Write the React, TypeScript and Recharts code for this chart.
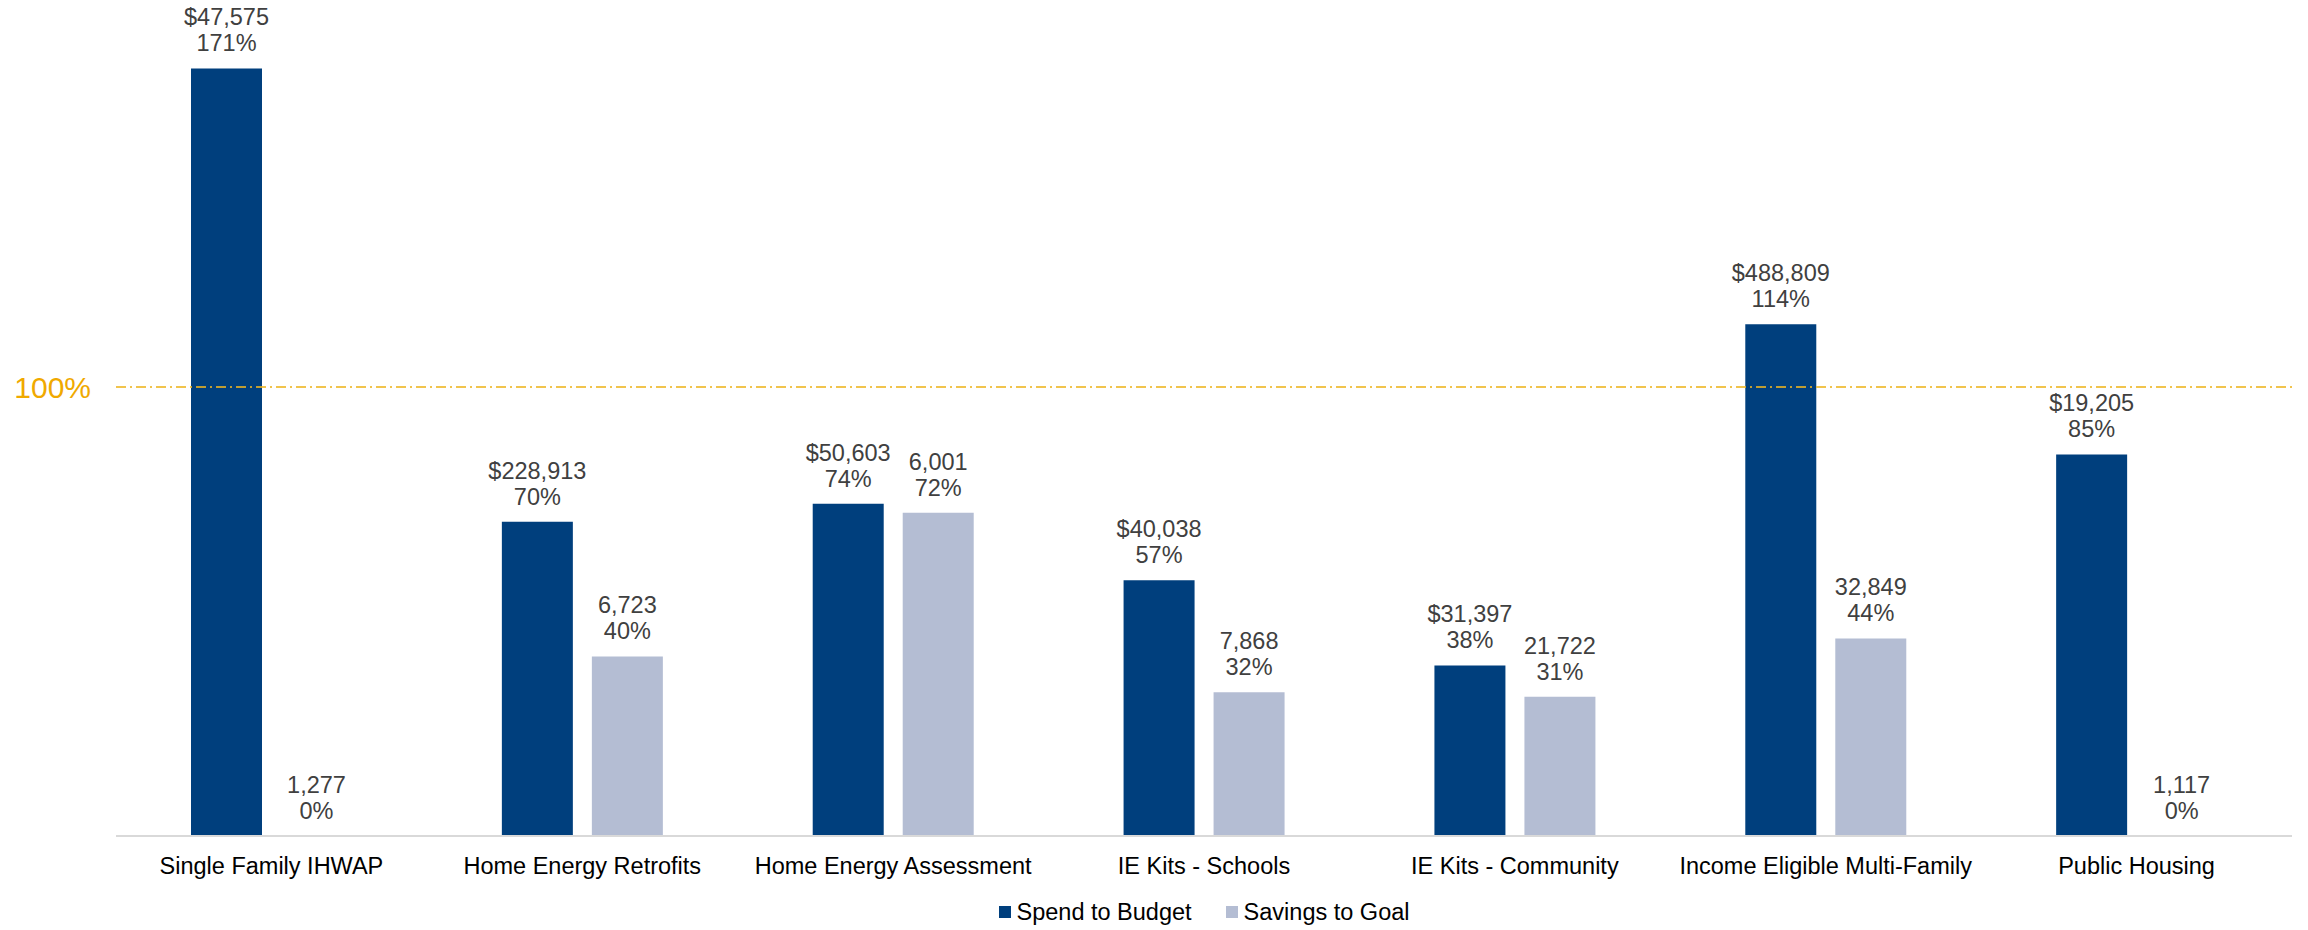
import React from "react";
import {
  BarChart,
  Bar,
  XAxis,
  YAxis,
  ReferenceLine,
  Legend,
  LabelList,
} from "recharts";

const categories = [
  "Single Family IHWAP",
  "Home Energy Retrofits",
  "Home Energy Assessment",
  "IE Kits - Schools",
  "IE Kits - Community",
  "Income Eligible Multi-Family",
  "Public Housing",
];

const spendPct = [171, 70, 74, 57, 38, 114, 85];
const savingsPct = [0, 40, 72, 32, 31, 44, 0];

const spendAmount = [
  "$47,575",
  "$228,913",
  "$50,603",
  "$40,038",
  "$31,397",
  "$488,809",
  "$19,205",
];
const savingsAmount = ["1,277", "6,723", "6,001", "7,868", "21,722", "32,849", "1,117"];

const NAVY = "#003F7D";
const LIGHT = "#B4BDD3";
const FONT = "'Liberation Sans', Arial, sans-serif";

const data = categories.map((name, i) => ({
  name,
  spend: spendPct[i],
  savings: savingsPct[i],
  spendLabel: `${spendAmount[i]}\n${spendPct[i]}%`,
  savingsLabel: `${savingsAmount[i]}\n${savingsPct[i]}%`,
}));

// zero-height bars get a hairline so their labels still render
const keepZero = (value: any) => (Number(value) === 0 ? 0.05 : 0);

const BarTopLabel = (props: any) => {
  const { x, y, width, value } = props;
  const [top, bottom] = String(value).split("\n");
  const cx = Number(x) + Number(width) / 2;
  const base = Number(y) - 17;
  return (
    <text textAnchor="middle" fontSize={23.5} fill="#404040" fontFamily={FONT}>
      <tspan x={cx} y={base - 26}>
        {top}
      </tspan>
      <tspan x={cx} y={base}>
        {bottom}
      </tspan>
    </text>
  );
};

const CategoryTick = ({ x, y, payload }: any) => (
  <text
    x={x}
    y={Number(y) + 38}
    textAnchor="middle"
    fontSize={23.5}
    fill="#000"
    fontFamily={FONT}
  >
    {payload.value}
  </text>
);

const TargetLabel = (props: any) => {
  const { viewBox } = props;
  return (
    <text
      x={viewBox.x - 25}
      y={viewBox.y + 11}
      textAnchor="end"
      fontSize={30}
      fill="#F0A900"
      fontFamily={FONT}
    >
      100%
    </text>
  );
};

const legendItems = [
  { label: "Spend to Budget", color: NAVY },
  { label: "Savings to Goal", color: LIGHT },
];

const ChartLegend = () => (
  <div
    style={{
      height: 36,
      display: "flex",
      justifyContent: "center",
      alignItems: "center",
      gap: 34,
      fontFamily: FONT,
      fontSize: 23.5,
      color: "#000",
    }}
  >
    {legendItems.map((item) => (
      <div key={item.label} style={{ display: "flex", alignItems: "center" }}>
        <span
          style={{
            width: 12,
            height: 12,
            background: item.color,
            marginRight: 6,
            display: "inline-block",
          }}
        />
        <span>{item.label}</span>
      </div>
    ))}
  </div>
);

export default function App() {
  return (
    <div
      style={{
        position: "absolute",
        left: 0,
        top: 0,
        width: 2308,
        height: 930,
        background: "#fff",
      }}
    >
      <BarChart
        width={2308}
        height={930}
        data={data}
        margin={{ top: 28, right: 16, left: 116, bottom: 0 }}
        barSize={71}
        barGap={19}
      >
        <XAxis
          dataKey="name"
          height={58}
          tickSize={0}
          tickMargin={0}
          tickLine={false}
          axisLine={{ stroke: "#D9D9D9", strokeWidth: 2 }}
          tick={<CategoryTick />}
          interval={0}
        />
        <YAxis hide domain={[0, 180]} allowDataOverflow />
        <Legend verticalAlign="bottom" content={<ChartLegend />} />
        <Bar
          dataKey="spend"
          name="Spend to Budget"
          fill={NAVY}
          minPointSize={keepZero}
          isAnimationActive={false}
        >
          <LabelList dataKey="spendLabel" content={<BarTopLabel />} />
        </Bar>
        <Bar
          dataKey="savings"
          name="Savings to Goal"
          fill={LIGHT}
          minPointSize={keepZero}
          isAnimationActive={false}
        >
          <LabelList dataKey="savingsLabel" content={<BarTopLabel />} />
        </Bar>
        <ReferenceLine
          y={100}
          stroke="#EDB521"
          strokeOpacity={0.8}
          strokeWidth={2}
          strokeDasharray="10 4 2 4"
          label={<TargetLabel />}
        />
      </BarChart>
    </div>
  );
}
